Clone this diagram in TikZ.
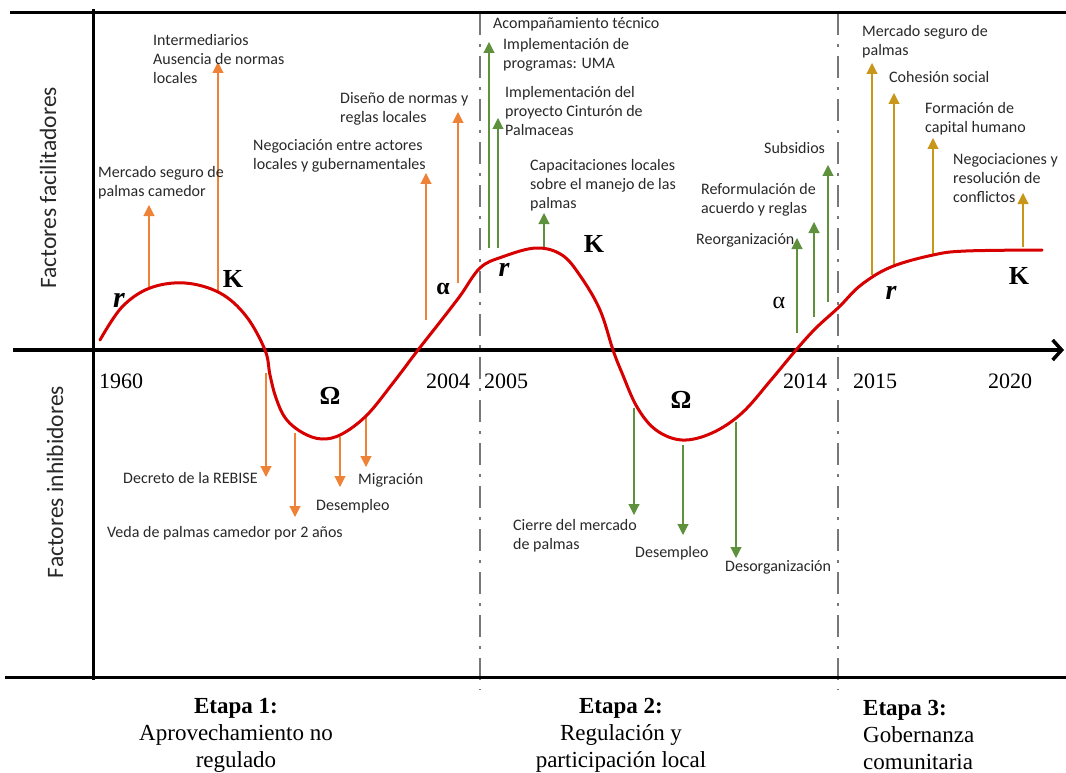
\documentclass[tikz,border=0pt]{standalone}
\usepackage{fontspec}
\setmainfont{Liberation Serif}
\newfontfamily\lblfont{Carlito}
\usetikzlibrary{arrows.meta}
\definecolor{orangeA}{RGB}{238,130,55}
\definecolor{greenA}{RGB}{95,145,60}
\definecolor{goldA}{RGB}{200,150,25}
\definecolor{curvered}{RGB}{215,0,0}
\definecolor{sepgray}{RGB}{120,120,120}
\definecolor{txt}{RGB}{40,40,40}
\newcommand\factarrow[5]{\coordinate (#1s) at (#2,#3); \coordinate (#1e) at (#2,#4); \draw[#5] (#1s) -- (#1e);}
\begin{document}
\begin{tikzpicture}[x=1pt,y=-1pt,
 frame/.style={line width=3pt,black},
 stagesep/.style={line width=2.2pt,sepgray,dash pattern=on 22pt off 9pt on 3pt off 9pt},
 lifecurve/.style={line width=3pt,curvered,line cap=round},
 fa/.style={line width=1.1pt,-{Triangle[length=11pt,width=11pt]}},
 fo/.style={fa,orangeA}, fg/.style={fa,greenA}, fy/.style={fa,goldA},
 lbl/.style={font=\lblfont\fontsize{16}{19}\selectfont,align=left,inner sep=0pt,text=txt,anchor=north west},
 yr/.style={font=\fontsize{22}{24}\selectfont,inner sep=0pt,anchor=base west},
 sym/.style={inner sep=0pt},
 vlab/.style={font=\lblfont\fontsize{23.5}{28}\selectfont,rotate=90,inner sep=0pt,text=txt},
 etapa/.style={font=\fontsize{23}{27}\selectfont,inner sep=0pt}
]
\useasboundingbox (0,0) rectangle (1066,773);
% frame
\coordinate (tl) at (10,13); \coordinate (tr) at (1066,13);
\coordinate (vt) at (93,9); \coordinate (vb) at (93,680);
\coordinate (bl) at (5,677); \coordinate (br) at (1066,677);
\coordinate (axl) at (13,350); \coordinate (axr) at (1064,350);
\coordinate (s1t) at (480,13); \coordinate (s1b) at (480,690);
\coordinate (s2t) at (838,13); \coordinate (s2b) at (838,690);
\draw[stagesep] (s1t) -- (s1b);
\draw[stagesep] (s2t) -- (s2b);
\draw[frame] (tl) -- (tr);
\draw[frame] (vt) -- (vb);
\draw[frame] (bl) -- (br);
\draw[frame,line width=3.5pt,-{Straight Barb[length=9pt,width=20pt]}] (axl) -- (axr);
% vertical labels
\node[vlab] (vf) at (48,188) {Factores facilitadores};
\node[vlab] (vi) at (55,482) {Factores inhibidores};
% arrows (orange)
\factarrow{a1}{149}{288}{205}{fo}
\factarrow{a2}{218}{292}{62}{fo}
\factarrow{a3}{426}{320}{173}{fo}
\factarrow{a4}{458}{283}{112}{fo}
\factarrow{a5}{266}{373}{477}{fo}
\factarrow{a6}{295}{433}{517}{fo}
\factarrow{a7}{340}{437}{487}{fo}
\factarrow{a8}{366}{415}{467}{fo}
% arrows (green)
\factarrow{g1}{489}{248}{42}{fg}
\factarrow{g2}{498}{248}{118}{fg}
\factarrow{g3}{544}{247}{213}{fg}
\factarrow{g4}{797}{333}{238}{fg}
\factarrow{g5}{814}{317}{222}{fg}
\factarrow{g6}{828}{302}{165}{fg}
\factarrow{g7}{634}{408}{515}{fg}
\factarrow{g8}{683}{445}{535}{fg}
\factarrow{g9}{736}{422}{558}{fg}
% arrows (gold)
\factarrow{y1}{872}{275}{63}{fy}
\factarrow{y2}{894}{265}{93}{fy}
\factarrow{y3}{933}{255}{138}{fy}
\factarrow{y4}{1023}{247}{193}{fy}
% curve
\draw[lifecurve] plot[smooth,tension=0.6] coordinates {
(100,340) (122,307) (150,288) (185,283) (220,293) (246,316)
(265,350) (270,375) (276,398) (286,419) (303,433) (322,439) (342,434) (367,415) (393,383)
(418,350) (440,322) (460,296) (480,268) (502,257) (536,248) (562,255) (581,277) (600,310)
(613,350) (622,373) (637,407) (656,430) (682,440) (712,433) (742,413) (771,380) (796,350)
(816,328) (839,307) (861,285) (891,267) (933,255) (966,251) (1042,250)};
% labels stage 1
\node[lbl] (l1) at (98,166) {Mercado seguro de\\palmas camedor};
\node[lbl] (l2) at (153,34) {Intermediarios\\Ausencia de normas\\locales};
\node[lbl] (l3) at (253,139) {Negociación entre actores\\locales y gubernamentales};
\node[lbl] (l4) at (340,92) {Diseño de normas y\\reglas locales};
\node[lbl] (l5) at (123,472) {Decreto de la REBISE};
\node[lbl] (l6) at (107,526) {Veda de palmas camedor por 2 años};
\node[lbl] (l7) at (316,499) {Desempleo};
\node[lbl] (l8) at (358,473) {Migración};
% labels stage 2
\node[lbl] (l9) at (493,17) {Acompañamiento técnico};
\node[lbl] (l10) at (503,38) {Implementación de\\programas: UMA};
\node[lbl] (l11) at (505,86) {Implementación del\\proyecto Cinturón de\\Palmaceas};
\node[lbl] (l12) at (530,159) {Capacitaciones locales\\sobre el manejo de las\\palmas};
\node[lbl] (l13) at (764,142) {Subsidios};
\node[lbl] (l14) at (701,183) {Reformulación de\\acuerdo y reglas};
\node[lbl] (l15) at (696,233) {Reorganización};
\node[lbl] (l16) at (513,519) {Cierre del mercado\\de palmas};
\node[lbl] (l17) at (635,546) {Desempleo};
\node[lbl] (l18) at (725,560) {Desorganización};
% labels stage 3
\node[lbl] (l19) at (862,25) {Mercado seguro de\\palmas};
\node[lbl] (l20) at (889,71) {Cohesión social};
\node[lbl] (l21) at (925,102) {Formación de\\capital humano};
\node[lbl] (l22) at (953,153) {Negociaciones y\\resolución de\\conflictos};
% years
\node[yr] (y1960) at (99,388) {1960};
\node[yr] (y2004) at (426,388) {2004};
\node[yr] (y2005) at (484,388) {2005};
\node[yr] (y2014) at (783,388) {2014};
\node[yr] (y2015) at (853,388) {2015};
\node[yr] (y2020) at (988,388) {2020};
% phase symbols
\node[sym,font=\bfseries\itshape\fontsize{30}{32}\selectfont] (r1) at (119,300) {r};
\node[sym,font=\bfseries\fontsize{26}{28}\selectfont] (k1) at (233,279) {K};
\node[sym,font=\bfseries\fontsize{26}{28}\selectfont] (o1) at (330,396) {Ω};
\node[sym,font=\bfseries\fontsize{24}{26}\selectfont] (al1) at (443,289) {α};
\node[sym,font=\bfseries\itshape\fontsize{28}{30}\selectfont] (r2) at (504,270) {r};
\node[sym,font=\bfseries\fontsize{26}{28}\selectfont] (k2) at (594,244) {K};
\node[sym,font=\bfseries\fontsize{26}{28}\selectfont] (o2) at (681,400) {Ω};
\node[sym,font=\fontsize{24}{26}\selectfont] (al2) at (779,303) {α};
\node[sym,font=\bfseries\itshape\fontsize{28}{30}\selectfont] (r3) at (891,293) {r};
\node[sym,font=\bfseries\fontsize{26}{28}\selectfont] (k3) at (1019,276) {K};
% stages
\node[etapa,align=center,anchor=north] (e1) at (236,698) {\textbf{Etapa 1:}\\Aprovechamiento no\\regulado};
\node[etapa,align=center,anchor=north] (e2) at (621,698) {\textbf{Etapa 2:}\\Regulación y\\participación local};
\node[etapa,align=left,anchor=north west] (e3) at (863,700) {\textbf{Etapa 3:}\\Gobernanza\\comunitaria};
\end{tikzpicture}
\end{document}
